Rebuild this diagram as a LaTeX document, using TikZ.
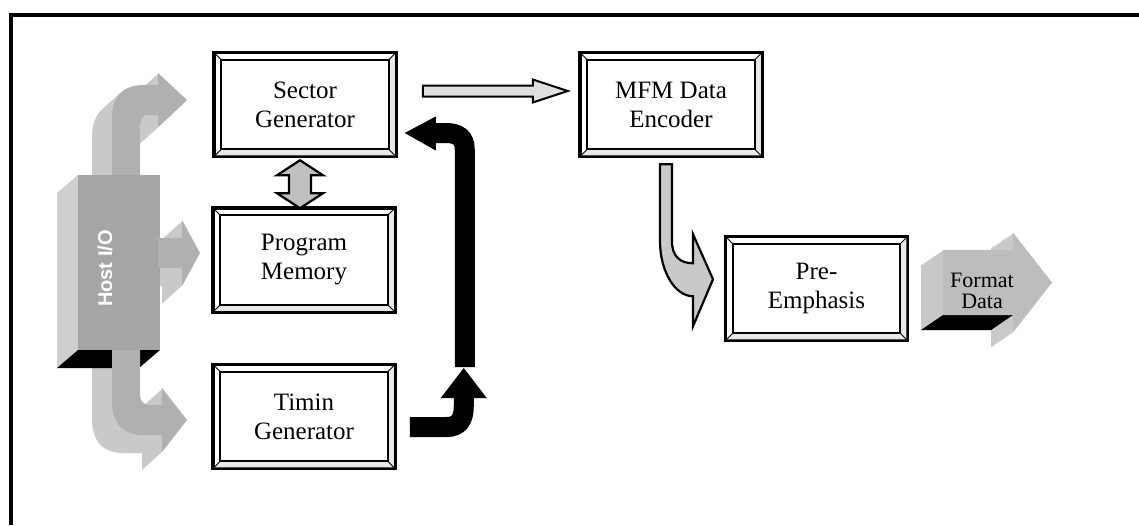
\documentclass[tikz,border=0pt]{standalone}
\usepackage{fontspec}
\setmainfont{Liberation Serif}
\newfontfamily\hostfont{Liberation Sans}
\usetikzlibrary{calc}

\tikzset{
  frame/.style={line width=4pt},
  bevbox/.style={draw, line width=3.5pt, minimum width=182pt, minimum height=104pt,
    inner sep=0pt, align=center, font=\fontsize{25}{29}\selectfont},
  bevinner/.style={line width=1.6pt},
  bevcorner/.style={line width=1pt},
  bevshade/.style={fill=gray!18},
  hollowarrow/.style={fill=gray!25, draw=black, line width=2pt, line join=miter},
  stiparrow/.style={fill=gray!50, draw=black, line width=2.2pt, line join=miter},
  solidshaft/.style={draw=black, line width=20pt},
  solidtip/.style={fill=black},
  ghost/.style={inner sep=0pt, outer sep=0pt},
  hostfront/.style={fill=gray!70},
  hostside/.style={fill=gray!38},
  depthface/.style={fill=black},
  extrude/.style={fill=gray!42},
  frontface/.style={fill=gray!62},
}

% outlines of the 3-D arrows, in coordinates local to their anchor
\def\TopArrowPath{(-7,0) -- (-7,-55) .. controls (-7,-80) and (5,-90) .. (25,-90) -- (39,-90) -- (39,-102) -- (68,-75) -- (39,-48) -- (39,-60) -- (28,-60) .. controls (24,-60) and (21,-55) .. (21,-50) -- (21,0) -- cycle}
\def\MidArrowPath{(-2,-24.5) -- (22,-24.5) -- (22,-42.5) -- (40,-9.5) -- (22,23.5) -- (22,5.5) -- (-2,5.5) -- cycle}
\def\LowArrowPath{(-7,0) -- (-7,50) .. controls (-7,75) and (5,85) .. (25,85) -- (43,85) -- (43,102) -- (68,70) -- (43,38) -- (43,55) -- (30,55) .. controls (24,55) and (21,50) .. (21,45) -- (21,0) -- cycle}
\def\FmtArrowPath{(-35,-32.5) -- (35,-32.5) -- (35,-50) -- (74,0) -- (35,50) -- (35,32.5) -- (-35,32.5) -- cycle}

\begin{document}
\begin{tikzpicture}[x=1pt, y=-1pt]
\useasboundingbox (0,0) rectangle (1139,525);

% page frame (top and left edges)
\coordinate (fbl) at (11,525);
\coordinate (ftl) at (11,14.5);
\coordinate (ftr) at (1139,14.5);
\draw[frame] (fbl) -- (ftl) -- (ftr);

% bevelled blocks
\node[bevbox] (sg)  at (305,104.5) {Sector\\Generator};
\node[bevbox] (pm)  at (304,260)   {Program\\Memory};
\node[bevbox] (tg)  at (304,416.5) {Timin\\Generator};
\node[bevbox] (mfm) at (671,104.5) {MFM Data\\Encoder};
\node[bevbox] (pe)  at (816.5,288.5) {Pre-\\Emphasis};

\foreach \b in {sg,pm,tg,mfm,pe}{
  \fill[bevshade] ($(\b.south west)+(3,-3)$) -- ($(\b.south east)+(-3,-3)$)
     -- ($(\b.south east)+(-9,-9)$) -- ($(\b.south west)+(9,-9)$) -- cycle;
  \fill[bevshade] ($(\b.north east)+(-3,3)$) -- ($(\b.south east)+(-3,-3)$)
     -- ($(\b.south east)+(-9,-9)$) -- ($(\b.north east)+(-9,9)$) -- cycle;
  \draw[bevinner] ($(\b.north west)+(9,9)$) rectangle ($(\b.south east)+(-9,-9)$);
  \draw[bevcorner] ($(\b.north west)+(3,3)$) -- ($(\b.north west)+(9,9)$);
  \draw[bevcorner] ($(\b.north east)+(-3,3)$) -- ($(\b.north east)+(-9,9)$);
  \draw[bevcorner] ($(\b.south west)+(3,-3)$) -- ($(\b.south west)+(9,-9)$);
  \draw[bevcorner] ($(\b.south east)+(-3,-3)$) -- ($(\b.south east)+(-9,-9)$);
}

% Host I/O block and its three arrows
\node[ghost, minimum width=82pt, minimum height=175pt] (host) at (119,262.5) {};

\begin{scope}[shift={(host.north)}]
  \foreach \k in {20,19,...,1} \fill[extrude, shift={(-\k,0.9*\k)}] \TopArrowPath;
\end{scope}
\begin{scope}[shift={(host.east)}]
  \foreach \k in {20,19,...,1} \fill[extrude, shift={(-\k,0.9*\k)}] \MidArrowPath;
\end{scope}
\begin{scope}[shift={(host.south)}]
  \foreach \k in {20,19,...,1} \fill[extrude, shift={(-\k,0.9*\k)}] \LowArrowPath;
\end{scope}

\fill[hostside] (host.north west) -- ++(-21,18) -- ($(host.south west)+(-21,18)$)
   -- (host.south west) -- cycle;
\fill[depthface] (host.south west) -- (host.south east) -- ++(-21,18)
   -- ($(host.south west)+(-21,18)$) -- cycle;
\fill[hostfront] (host.north west) rectangle (host.south east);

\begin{scope}[shift={(host.north)}]
  \fill[frontface] \TopArrowPath;
\end{scope}
\begin{scope}[shift={(host.east)}]
  \fill[frontface] \MidArrowPath;
\end{scope}
\begin{scope}[shift={(host.south)}]
  \fill[frontface] \LowArrowPath;
\end{scope}

\node[rotate=90, text=white, font=\hostfont\bfseries\fontsize{20}{24}\selectfont]
  (hostlabel) at ($(host.center)+(-14,6)$) {Host I/O};

% Sector Generator -> MFM Data Encoder
\begin{scope}[shift={(sg.east)}]
  \draw[hollowarrow] (25,-19) -- (135,-19) -- (135,-25) -- (170,-13.5)
     -- (135,-2) -- (135,-8) -- (25,-8) -- cycle;
\end{scope}

% Sector Generator <-> Program Memory
\begin{scope}[shift={(sg.south)}]
  \draw[stiparrow] (-5,2) -- (18,17) -- (6,17) -- (6,35) -- (18,35) -- (-5,50)
     -- (-28,35) -- (-16,35) -- (-16,17) -- (-28,17) -- cycle;
\end{scope}

% Timin Generator -> Sector Generator (solid black)
\begin{scope}[shift={(tg.east)}]
  \draw[solidshaft] (13,10.5) -- (50,10.5) .. controls (62,10.5) and (67,3) .. (67,-10) -- (67,-19);
  \fill[solidtip] (44,-18.5) -- (67,-48.5) -- (90,-18.5) -- cycle;
\end{scope}
\begin{scope}[shift={(sg.east)}]
  \draw[solidshaft] (67,262.5) -- (67,45) .. controls (67,33) and (60,28.5) .. (48,28.5) -- (37,28.5);
  \fill[solidtip] (38,12) -- (7,28.5) -- (38,46) -- cycle;
\end{scope}

% MFM Data Encoder -> Pre-Emphasis (bent arrow)
\begin{scope}[shift={(mfm.south)}]
  \draw[stiparrow, fill=gray!42] (-11,6) -- (1,6) -- (1,83) .. controls (1,98) and (9,105) .. (22,105)
     -- (22,76) -- (42,121) -- (22,168) -- (22,138)
     .. controls (4,138) and (-11,113) .. (-11,83) -- cycle;
\end{scope}

% Format Data output arrow
\node[ghost, minimum width=70pt, minimum height=65pt] (fd) at (978,282.5) {};
\begin{scope}[shift={(fd.center)}]
  \foreach \k in {20,19,...,1} \fill[extrude, shift={(-1.1*\k,0.75*\k)}] \FmtArrowPath;
  \fill[depthface] (-35,32.5) -- (35,32.5) -- (13,47.5) -- (-57,47.5) -- cycle;
  \fill[frontface, fill=gray!52] \FmtArrowPath;
\end{scope}
\node[align=center, inner sep=0pt, font=\fontsize{22}{21}\selectfont]
  (fdlabel) at ($(fd.center)+(4,8)$) {Format\\Data};

\end{tikzpicture}
\end{document}
